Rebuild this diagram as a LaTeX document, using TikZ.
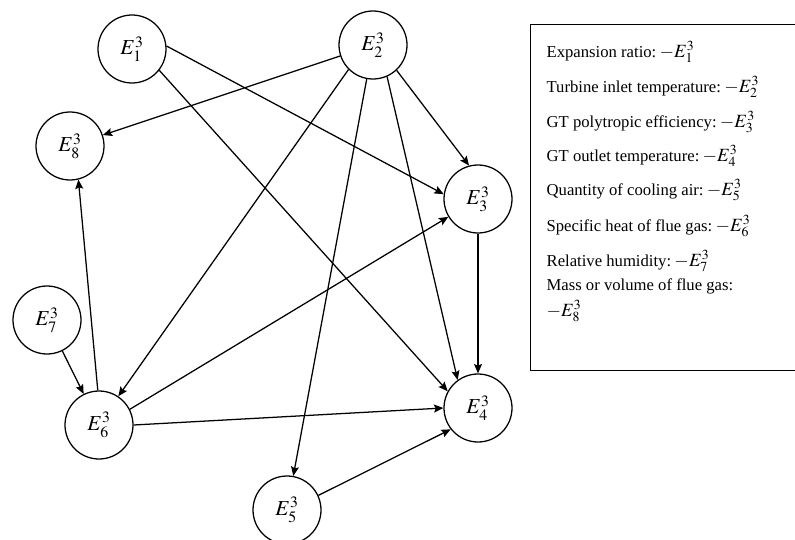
\documentclass[tikz,border=0pt]{standalone}
\usepackage{mathptmx}
\usepackage{fontspec}
\setmainfont{Liberation Serif}
\usetikzlibrary{arrows.meta,automata,positioning}

\begin{document}
\begin{tikzpicture}[->,>={Stealth[length=7pt,width=6pt,inset=1.2pt]},auto,x=0.75pt,y=-0.75pt,line width=0.95pt]
\tikzstyle{every state}=[fill=white,draw=black,text=black,minimum size=51pt,inner sep=0pt,line width=0.95pt,font=\fontsize{16}{18}\selectfont]
\tikzstyle{legend}=[anchor=base west,inner sep=0pt,font=\fontsize{12.5}{15}\selectfont]

\useasboundingbox (0,0) rectangle (795,539);

% Nodos del grafo
\node[state] (e1) at (132,49) {$E_1^3$};
\node[state] (e2) at (373,45) {$E_2^3$};
\node[state] (e3) at (478,199) {$E_3^3$};
\node[state] (e4) at (478,408) {$E_4^3$};
\node[state] (e5) at (287,510) {$E_5^3$};
\node[state] (e6) at (99,425) {$E_6^3$};
\node[state] (e7) at (47,320) {$E_7^3$};
\node[state] (e8) at (70,146) {$E_8^3$};

% Conexiones
\path
(e1.5) edge (e3.172)
(e1.-38) edge (e4.151)
(e2) edge (e8)
(e2.-47) edge (e3.105)
(e2.-66) edge (e4.126)
(e2) edge (e5)
(e2.225) edge (e6.56)
(e3) edge (e4)
(e5.25) edge (e4.218)
(e6.92) edge (e8.-76)
(e6.27) edge (e3.211)
(e6.0) edge (e4.180)
(e7) edge (e6);

% Leyenda
\node[draw,anchor=north west,minimum width=200pt,minimum height=259.5pt,inner sep=0pt] (legendbox) at (530,24) {};
\foreach \n/\y/\txt in {1/57/Expansion ratio:, 2/92/Turbine inlet temperature:, 3/127/GT polytropic efficiency:, 4/161/GT outlet temperature:, 5/195/Quantity of cooling air:, 6/231/Specific heat of flue gas:, 7/266/Relative humidity:}
  \node[legend] (leg\n) at (546,\y) {\txt\hspace{2.5pt}{\fontsize{14}{16}\selectfont$-E_{\n}^3$}};
\node[legend] (leg8) at (546,290) {Mass or volume of flue gas:};
\node[legend] (leg8b) at (546,316) {\fontsize{14}{16}\selectfont$-E_8^3$};
\end{tikzpicture}
\end{document}
